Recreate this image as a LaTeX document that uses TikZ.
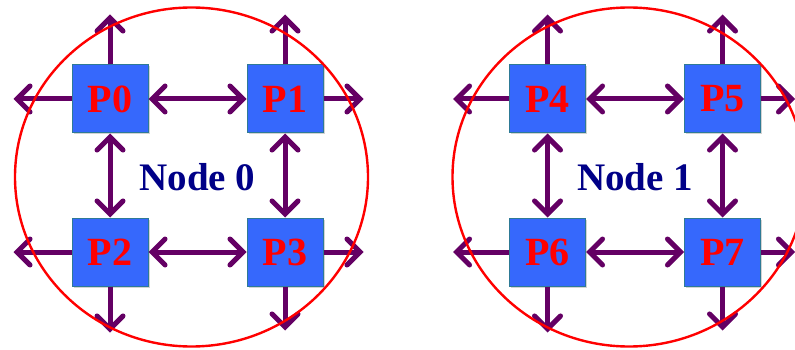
\documentclass[tikz,border=0pt]{standalone}
\usepackage{fontspec}
\setmainfont{Liberation Serif}
\usetikzlibrary{
    arrows.meta,
    positioning,
    calc,
    shadows
}
\definecolor{ProcBlue}{RGB}{54,104,252}
\definecolor{ProcEdge}{RGB}{46,122,150}
\definecolor{LinkPurple}{RGB}{100,0,100}
\definecolor{NodeNavy}{RGB}{0,0,135}

\begin{document}
\begin{tikzpicture}[
    x=1pt,
    y=-1pt,
    node distance=84pt and 98pt,
    proc/.style={
        draw=ProcEdge,
        line width=1pt,
        fill=ProcBlue,
        minimum width=76pt,
        minimum height=68pt,
        inner sep=0pt,
        text=red,
        font=\bfseries\fontsize{40}{40}\selectfont,
        drop shadow={opacity=0.35, shadow xshift=1.5pt, shadow yshift=-1.5pt}
    },
    link/.style={
        LinkPurple,
        line width=5pt,
        {Straight Barb[length=13pt, width=26pt, line cap=round]}-{Straight Barb[length=13pt, width=26pt, line cap=round]}
    },
    exitlink/.style={
        LinkPurple,
        line width=5pt,
        -{Straight Barb[length=13pt, width=26pt, line cap=round]}
    },
    groupname/.style={
        text=NodeNavy,
        font=\bfseries\fontsize{39}{39}\selectfont
    },
    ring/.style={
        draw=red,
        line width=2.4pt
    }
]

\useasboundingbox (0,0) rectangle (795,350);

% node 0
\node[proc] (p0) at (110,99) {P0};
\node[proc, right=of p0] (p1) {P1};
\node[proc, below=of p0] (p2) {P2};
\node[proc, right=of p2] (p3) {P3};

% node 1
\node[proc] (p4) at (547.5,99) {P4};
\node[proc, right=of p4] (p5) {P5};
\node[proc, below=of p4] (p6) {P6};
\node[proc, right=of p6] (p7) {P7};

\node[groupname] (node0) at ($(p0)!0.5!(p3)+(0,2)$) {Node 0};
\node[groupname] (node1) at ($(p4)!0.5!(p7)+(0,2)$) {Node 1};

% links leaving each group
\coordinate[above=50pt of p0] (p0n);
\coordinate[left=58pt of p0] (p0w);
\coordinate[above=50pt of p1] (p1n);
\coordinate[right=40pt of p1] (p1e);
\coordinate[left=58pt of p2] (p2w);
\coordinate[below=46pt of p2] (p2s);
\coordinate[right=40pt of p3] (p3e);
\coordinate[below=44pt of p3] (p3s);

\coordinate[above=50pt of p4] (p4n);
\coordinate[left=56pt of p4] (p4w);
\coordinate[above=50pt of p5] (p5n);
\coordinate[right=34pt of p5] (p5e);
\coordinate[left=56pt of p6] (p6w);
\coordinate[below=46pt of p6] (p6s);
\coordinate[right=34pt of p7] (p7e);
\coordinate[below=44pt of p7] (p7s);

\draw[exitlink] (p0) -- (p0n);
\draw[exitlink] (p0) -- (p0w);
\draw[exitlink] (p1) -- (p1n);
\draw[exitlink] (p1) -- (p1e);
\draw[exitlink] (p2) -- (p2w);
\draw[exitlink] (p2) -- (p2s);
\draw[exitlink] (p3) -- (p3e);
\draw[exitlink] (p3) -- (p3s);

\draw[exitlink] (p4) -- (p4n);
\draw[exitlink] (p4) -- (p4w);
\draw[exitlink] (p5) -- (p5n);
\draw[exitlink] (p5) -- (p5e);
\draw[exitlink] (p6) -- (p6w);
\draw[exitlink] (p6) -- (p6s);
\draw[exitlink] (p7) -- (p7e);
\draw[exitlink] (p7) -- (p7s);

% links inside each group
\draw[link] (p0) -- (p1);
\draw[link] (p2) -- (p3);
\draw[link] (p0) -- (p2);
\draw[link] (p1) -- (p3);

\draw[link] (p4) -- (p5);
\draw[link] (p6) -- (p7);
\draw[link] (p4) -- (p6);
\draw[link] (p5) -- (p7);

% group outlines
\draw[ring] (191.5,177) ellipse [x radius=176.5, y radius=169.5];
\draw[ring] (629,177) ellipse [x radius=176.5, y radius=169.5];

\end{tikzpicture}
\end{document}
